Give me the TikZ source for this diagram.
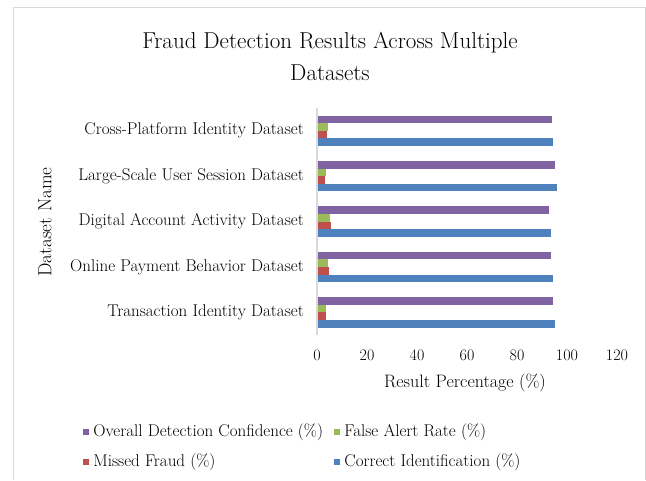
\documentclass[tikz,border=0pt]{standalone}
\usepackage{tikz}
\usetikzlibrary{positioning}
\definecolor{barblue}{HTML}{4F81BD}
\definecolor{barred}{HTML}{C0504D}
\definecolor{bargreen}{HTML}{9BBB59}
\definecolor{barpurple}{HTML}{8064A2}
\definecolor{framegray}{HTML}{D9D9D9}

\begin{document}
\begin{tikzpicture}[
        x=1pt, y=-1pt,
        charttitle/.style={align=center, font=\fontsize{23}{32}\selectfont},
        catlabel/.style={anchor=east, inner sep=0pt, font=\fontsize{17}{19}\selectfont},
        ticklabel/.style={inner sep=0pt, font=\fontsize{16}{18}\selectfont},
        axistitle/.style={inner sep=0pt, font=\fontsize{18}{20}\selectfont},
        legendkey/.style={minimum size=6pt, inner sep=0pt},
        legendtext/.style={anchor=west, inner sep=0pt, font=\fontsize{17}{19}\selectfont},
        bar/.style={draw=none},
    ]
    \useasboundingbox (0,0) rectangle (646,480);
    % chart frame
    \draw[framegray, line width=1pt] (13.5,480) -- (13.5,7.5) -- (645,7.5) -- (645,480);

    \node[charttitle] (TITLE) at (330,56) {Fraud Detection Results Across Multiple\\Datasets};

    % bars: overall, false alert, missed, correct (top to bottom in each group)
    \foreach \yc/\ov/\fa/\mf/\ci [count=\i] in {
            130.7/93.9/4.3/4.0/94.5,
            176.1/95.2/3.6/3.1/95.9,
            221.5/92.9/5.1/5.5/93.6,
            266.9/93.6/4.3/4.7/94.3,
            312.3/94.5/3.6/3.7/95.2} {
        \fill[bar, barpurple] (317,\yc-15.2) rectangle (317+2.5*\ov,\yc-7.6);
        \fill[bar, bargreen] (317,\yc-7.6) rectangle (317+2.5*\fa,\yc);
        \fill[bar, barred] (317,\yc) rectangle (317+2.5*\mf,\yc+7.6);
        \fill[bar, barblue] (317,\yc+7.6) rectangle (317+2.5*\ci,\yc+15.2);
    }

    % category axis
    \coordinate (AXTOP) at (317,108);
    \coordinate (AXBOT) at (317,335);
    \draw[framegray, line width=1.5pt] (AXTOP) -- (AXBOT);

    \node[catlabel] (CAT1) at (304,130.7) {Cross-Platform Identity Dataset};
    \node[catlabel] (CAT2) at (304,176.1) {Large-Scale User Session Dataset};
    \node[catlabel] (CAT3) at (304,221.5) {Digital Account Activity Dataset};
    \node[catlabel] (CAT4) at (304,266.9) {Online Payment Behavior Dataset};
    \node[catlabel] (CAT5) at (304,312.3) {Transaction Identity Dataset};

    \foreach \v in {0,20,...,120}
        \node[ticklabel] (TICK\v) at (317+2.5*\v,355) {\v};

    \node[axistitle] (XTITLE) at (465,383) {Result Percentage (\%)};
    \node[axistitle, font=\fontsize{19}{21}\selectfont, rotate=90] (YTITLE) at (45,222) {Dataset Name};

    % legend
    \node[legendkey, fill=barpurple] (KEYOV) at (86,432) {};
    \node[legendtext, right=4pt of KEYOV] (LBLOV) {Overall Detection Confidence (\%)};
    \node[legendkey, fill=bargreen] (KEYFA) at (337,432) {};
    \node[legendtext, right=4pt of KEYFA] (LBLFA) {False Alert Rate (\%)};
    \node[legendkey, fill=barred] (KEYMF) at (86,462) {};
    \node[legendtext, right=4pt of KEYMF] (LBLMF) {Missed Fraud (\%)};
    \node[legendkey, fill=barblue] (KEYCI) at (337,462) {};
    \node[legendtext, right=4pt of KEYCI] (LBLCI) {Correct Identification (\%)};
\end{tikzpicture}
\end{document}
